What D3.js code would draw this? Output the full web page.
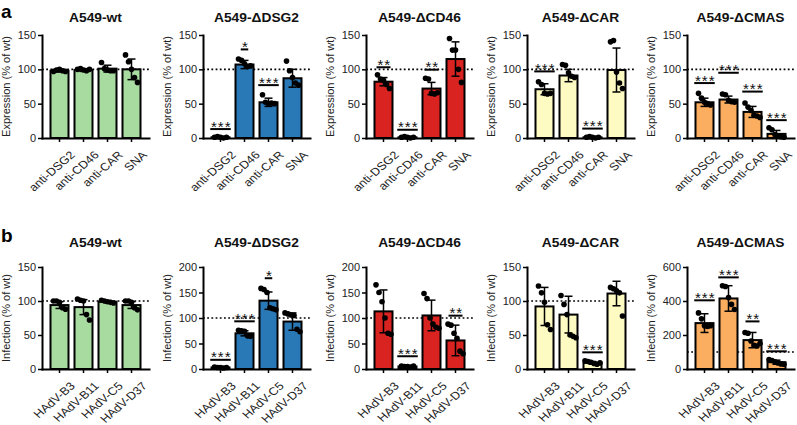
<!DOCTYPE html>
<html>
<head>
<meta charset="utf-8">
<script src="https://cdn.jsdelivr.net/npm/d3@7"></script>
<style>
  body { margin: 0; background: #fff; }
  svg { font-family: "Liberation Sans", Arial, sans-serif; }
</style>
</head>
<body>
<svg id="fig" width="797" height="425"></svg>
<script>
// ---- data ----
var cellLines = ["A549-wt", "A549-\u0394DSG2", "A549-\u0394CD46", "A549-\u0394CAR", "A549-\u0394CMAS"];
var colors = ["#a8dba0", "#2a79b7", "#d92320", "#fdfac2", "#fbad60"];

var exprCats = ["anti-DSG2", "anti-CD46", "anti-CAR", "SNA"];
var exprMax = [150, 150, 150, 150, 150];
var exprStep = [50, 50, 50, 50, 50];
var exprMeans = [[98, 99, 101, 100], [1, 107, 52, 87], [82, 1, 72, 115], [71, 91, 1, 99], [52, 56, 38, 6]];
var exprSD = [[2, 2, 5, 15], [1, 6, 6, 13], [6, 1, 9, 25], [8, 9, 1, 32], [6, 5, 8, 5]];
var exprDots = [
  [[97, 99, 100, 98, 97], [100, 101, 99, 98, 100], [110, 101, 99, 98, 98], [121, 111, 100, 88, 81]],
  [[1, 2, 1, 0, 1], [115, 113, 108, 104, 105], [63, 52, 50, 51, 50], [112, 98, 88, 80, 77]],
  [[92, 86, 84, 78, 72], [1, 2, 1, 0, 1], [87, 86, 65, 64, 66], [145, 128, 128, 100, 81]],
  [[82, 78, 65, 64, 65], [107, 106, 95, 90, 88], [1, 2, 1, 0, 1], [140, 142, 96, 80, 72]],
  [[65, 58, 52, 50, 48], [64, 63, 55, 53, 52], [51, 45, 40, 33, 32, 30], [15, 12, 5, 3, 2, 1]]
];
var exprStars = [[0, 0, 0, 0], [3, 1, 3, 0], [2, 3, 2, 0], [3, 0, 3, 0], [3, 3, 3, 3]];
var exprSigAt = [[0, 0, 0, 0], [13, 129, 77, 0], [103, 12, 99.5, 0], [97, 0, 13.7, 0], [80, 95, 67.6, 26]];

var infCats = ["HAdV-B3", "HAdV-B11", "HAdV-C5", "HAdV-D37"];
var infMax = [150, 200, 200, 150, 600];
var infStep = [50, 50, 50, 50, 200];
var infMeans = [[94, 91, 99, 94], [3, 70, 134, 93], [113, 5, 105, 56], [92, 80, 9, 111], [270, 415, 170, 40]];
var infSD = [[5, 11, 1.5, 5], [1, 5, 17, 17], [42, 1, 30, 30], [28, 27, 2, 18], [55, 75, 45, 12]];
var infDots = [
  [[100, 100, 98, 90, 88], [103, 101, 100, 80, 72], [101, 100, 99, 98, 97], [100, 100, 98, 90, 87]],
  [[4, 3, 3, 2, 3], [76, 75, 74, 65, 64], [158, 156, 150, 120, 118, 116], [110, 108, 106, 105, 78, 73]],
  [[165, 150, 132, 100, 70, 68], [6, 5, 5, 4, 6], [148, 138, 100, 88, 82, 80], [88, 86, 70, 60, 35, 30]],
  [[122, 112, 98, 65, 58], [108, 95, 80, 50, 48, 46], [12, 11, 10, 8, 7, 9], [120, 118, 115, 112, 78]],
  [[330, 295, 255, 250, 255], [490, 485, 420, 380, 350], [215, 210, 165, 140, 135, 150], [55, 50, 42, 35, 30, 28]]
];
var infStars = [[0, 0, 0, 0], [3, 3, 1, 0], [0, 3, 0, 2], [0, 0, 3, 0], [3, 3, 2, 3]];
var infSigAt = [[0, 0, 0, 0], [18, 93.5, 178, 0], [0, 25, 0, 104.6], [0, 0, 24.5, 0], [404, 539, 280, 104]];

// ---- layout ----
var axisX = [42, 203, 366, 527, 687];
var plotW = 107;

var rows = [
  { letter: "a", letterY: 18, titleY: 22, top: 35, bottom: 138, ylabel: "Expression (% of wt)",
    cats: exprCats, max: exprMax, step: exprStep, means: exprMeans, sd: exprSD, dots: exprDots,
    stars: exprStars, sigAt: exprSigAt },
  { letter: "b", letterY: 242, titleY: 247, top: 267, bottom: 369, ylabel: "Infection (% of wt)",
    cats: infCats, max: infMax, step: infStep, means: infMeans, sd: infSD, dots: infDots,
    stars: infStars, sigAt: infSigAt }
];

var svg = d3.select("#fig");

function panel(row, i) {
  var x0 = axisX[i], x1 = x0 + plotW;
  var x = d3.scaleBand().domain(row.cats).range([x0, x1]).paddingInner(0.25).paddingOuter(0.354);
  var y = d3.scaleLinear().domain([0, row.max[i]]).range([row.bottom, row.top]);
  var g = svg.append("g");
  var cx = function(d) { return x(d) + x.bandwidth() / 2; };

  // dotted 100% line
  g.append("line")
    .attr("x1", x0).attr("x2", x1)
    .attr("y1", y(100)).attr("y2", y(100))
    .attr("stroke", "#000").attr("stroke-width", 1.6)
    .attr("stroke-dasharray", "1.8,2.4");

  // bars
  g.selectAll("rect.bar").data(row.cats).enter().append("rect")
    .attr("class", "bar")
    .attr("x", function(d) { return x(d); })
    .attr("width", x.bandwidth())
    .attr("y", function(d, j) { return y(row.means[i][j]); })
    .attr("height", function(d, j) { return y(0) - y(row.means[i][j]); })
    .attr("fill", colors[i])
    .attr("stroke", "#000").attr("stroke-width", 2);

  // error bars (mean +/- sd)
  row.cats.forEach(function(c, j) {
    var m = row.means[i][j], s = row.sd[i][j];
    var lo = y(Math.max(0, m - s)), hi = y(m + s), c0 = cx(c);
    var eb = g.append("g").attr("stroke", "#000").attr("stroke-width", 1.5);
    eb.append("line").attr("x1", c0).attr("x2", c0).attr("y1", lo).attr("y2", hi);
    eb.append("line").attr("x1", c0 - 4).attr("x2", c0 + 4).attr("y1", hi).attr("y2", hi);
    eb.append("line").attr("x1", c0 - 4).attr("x2", c0 + 4).attr("y1", lo).attr("y2", lo);

    // replicate points
    var pts = row.dots[i][j];
    g.selectAll(null).data(pts).enter().append("circle")
      .attr("cx", function(d, k) { return c0 + (k - (pts.length - 1) / 2) * 3; })
      .attr("cy", function(d) { return y(d); })
      .attr("r", 2.8)
      .attr("fill", "#000");

    // significance
    var n = row.stars[i][j];
    if (n > 0) {
      var w = n * 6.5 + 1, ly = y(row.sigAt[i][j]);
      g.append("line")
        .attr("x1", c0 - w / 2).attr("x2", c0 + w / 2)
        .attr("y1", ly).attr("y2", ly)
        .attr("stroke", "#000").attr("stroke-width", 2);
      g.append("text")
        .attr("x", c0 + 0.8).attr("y", ly + 2.5)
        .attr("text-anchor", "middle")
        .attr("font-size", 15)
        .attr("letter-spacing", 1)
        .attr("fill", "#111")
        .text("*".repeat(n));
    }
  });

  // y axis
  var ya = g.append("g").attr("transform", "translate(" + x0 + ",0)")
    .call(d3.axisLeft(y).tickValues(d3.range(0, row.max[i] + 1, row.step[i]))
      .tickSize(4).tickSizeOuter(0).tickPadding(2));
  ya.select(".domain").attr("stroke-width", 2).attr("stroke-linecap", "square");
  ya.selectAll(".tick line").attr("stroke-width", 1.5);
  ya.selectAll(".tick text").attr("font-size", 11).attr("fill", "#222")
    .attr("font-family", "Liberation Sans, Arial, sans-serif");

  // x axis
  var xa = g.append("g").attr("transform", "translate(0," + row.bottom + ")")
    .call(d3.axisBottom(x).tickSize(4).tickSizeOuter(0));
  xa.select(".domain").attr("stroke-width", 2).attr("stroke-linecap", "square");
  xa.selectAll(".tick line").attr("stroke-width", 1.5);
  xa.selectAll(".tick text")
    .attr("font-size", 11).attr("fill", "#222")
    .attr("font-family", "Liberation Sans, Arial, sans-serif")
    .attr("text-anchor", "end")
    .attr("x", 0).attr("y", 0).attr("dy", "0.35em")
    .attr("transform", "translate(13,15) scale(1.15,1) rotate(-45)");

  // title
  g.append("text")
    .attr("transform", "translate(" + (x0 + plotW / 2) + "," + row.titleY + ") scale(1.15,1)")
    .attr("text-anchor", "middle")
    .attr("font-size", 12).attr("font-weight", "bold").attr("fill", "#111")
    .text(cellLines[i]);

  // y label
  g.append("text")
    .attr("transform", "translate(" + (x0 - 36) + "," + ((row.top + row.bottom) / 2) + ") rotate(-90)")
    .attr("text-anchor", "middle").attr("dy", "0.35em")
    .attr("font-size", 11).attr("fill", "#222")
    .text(row.ylabel);
}

rows.forEach(function(row) {
  svg.append("text")
    .attr("x", 1).attr("y", row.letterY)
    .attr("font-size", 19).attr("font-weight", "bold")
    .text(row.letter);
  for (var i = 0; i < cellLines.length; i++) panel(row, i);
});
</script>
</body>
</html>
